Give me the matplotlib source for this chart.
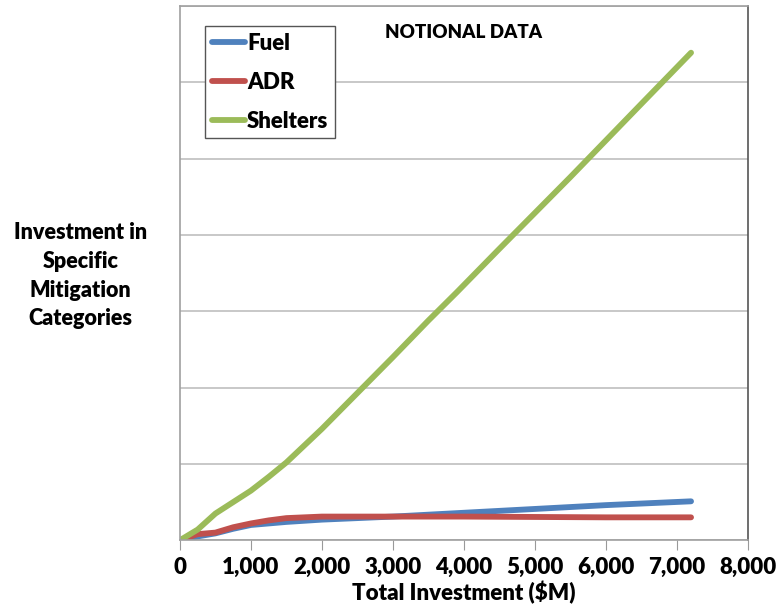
import numpy as np
from matplotlib import pyplot as plt
from matplotlib.ticker import FuncFormatter

plt.rcParams['font.family'] = ['Lato', 'DejaVu Sans']

# total investment ($M) and notional category investment
shelters_x = [0, 250, 500, 750, 1000, 1250, 1500, 2000, 2500, 3000, 3500, 3900, 4500, 5000, 5500, 6000, 6500, 7200]
shelters_y = [0, 1.4, 3.5, 5.0, 6.5, 8.3, 10.2, 14.6, 19.3, 24.0, 28.8, 32.5, 38.2, 42.9, 47.6, 52.4, 57.2, 63.9]

fuel_x = [0, 250, 500, 750, 1000, 1500, 2000, 2500, 3000, 4000, 5000, 6000, 7200]
fuel_y = [0, 0.5, 0.9, 1.5, 2.0, 2.4, 2.7, 2.9, 3.1, 3.6, 4.1, 4.6, 5.1]

adr_x = [0, 250, 500, 750, 1000, 1250, 1500, 2000, 2500, 3000, 4000, 5000, 6000, 7200]
adr_y = [0, 0.8, 1.0, 1.7, 2.2, 2.6, 2.9, 3.1, 3.1, 3.1, 3.1, 3.05, 3.0, 3.0]

W = 'heavy'

fig = plt.figure(figsize=(7.79, 6.16), dpi=100)
ax = fig.add_axes([0.231, 0.123, 0.729, 0.867])

ax.plot(fuel_x, fuel_y, color='#4F81BD', lw=4.2, solid_capstyle='round', label='Fuel')
ax.plot(adr_x, adr_y, color='#C0504D', lw=4.2, solid_capstyle='round', label='ADR')
ax.plot(shelters_x, shelters_y, color='#9BBB59', lw=4.2, solid_capstyle='round', label='Shelters')

ax.set_xlim(0, 8000)
ax.set_ylim(0, 70)
ax.set_xticks(np.arange(0, 8001, 1000))
ax.set_yticks(np.arange(0, 71, 10))
ax.yaxis.grid(True, color='#BFBFBF', lw=1.2)
ax.set_axisbelow(True)
ax.tick_params(axis='y', left=False, labelleft=False)
ax.tick_params(axis='x', direction='out', length=7, color='#999999', labelsize=16, pad=5)
ax.xaxis.set_major_formatter(FuncFormatter(lambda v, p: '{:,.0f}'.format(v)))
for lab in ax.get_xticklabels():
    lab.set_fontweight(W)

for s in ['left', 'bottom', 'top']:
    ax.spines[s].set_color('#A0A0A0')
ax.spines['right'].set_color('#555555')
for s in ax.spines.values():
    s.set_linewidth(1.2)

ax.set_xlabel('Total Investment ($M)', fontsize=16, fontweight=W, labelpad=2)
fig.text(0.103, 0.552, 'Investment in\nSpecific\nMitigation\nCategories', ha='center', va='center',
         fontsize=15.5, fontweight=W, linespacing=1.45)
ax.text(0.5, 0.95, 'NOTIONAL DATA', transform=ax.transAxes, ha='center', va='center',
        fontsize=13.5, fontweight=W)

leg = ax.legend(loc='upper left', bbox_to_anchor=(0.044, 0.962), fancybox=False, framealpha=1,
                edgecolor='#555555', prop={'size': 16, 'weight': W}, handlelength=1.5,
                handletextpad=0.1, labelspacing=0.8, borderpad=0.3, borderaxespad=0)
leg.get_frame().set_linewidth(1.0)

fig.savefig('out.png', dpi=100)
